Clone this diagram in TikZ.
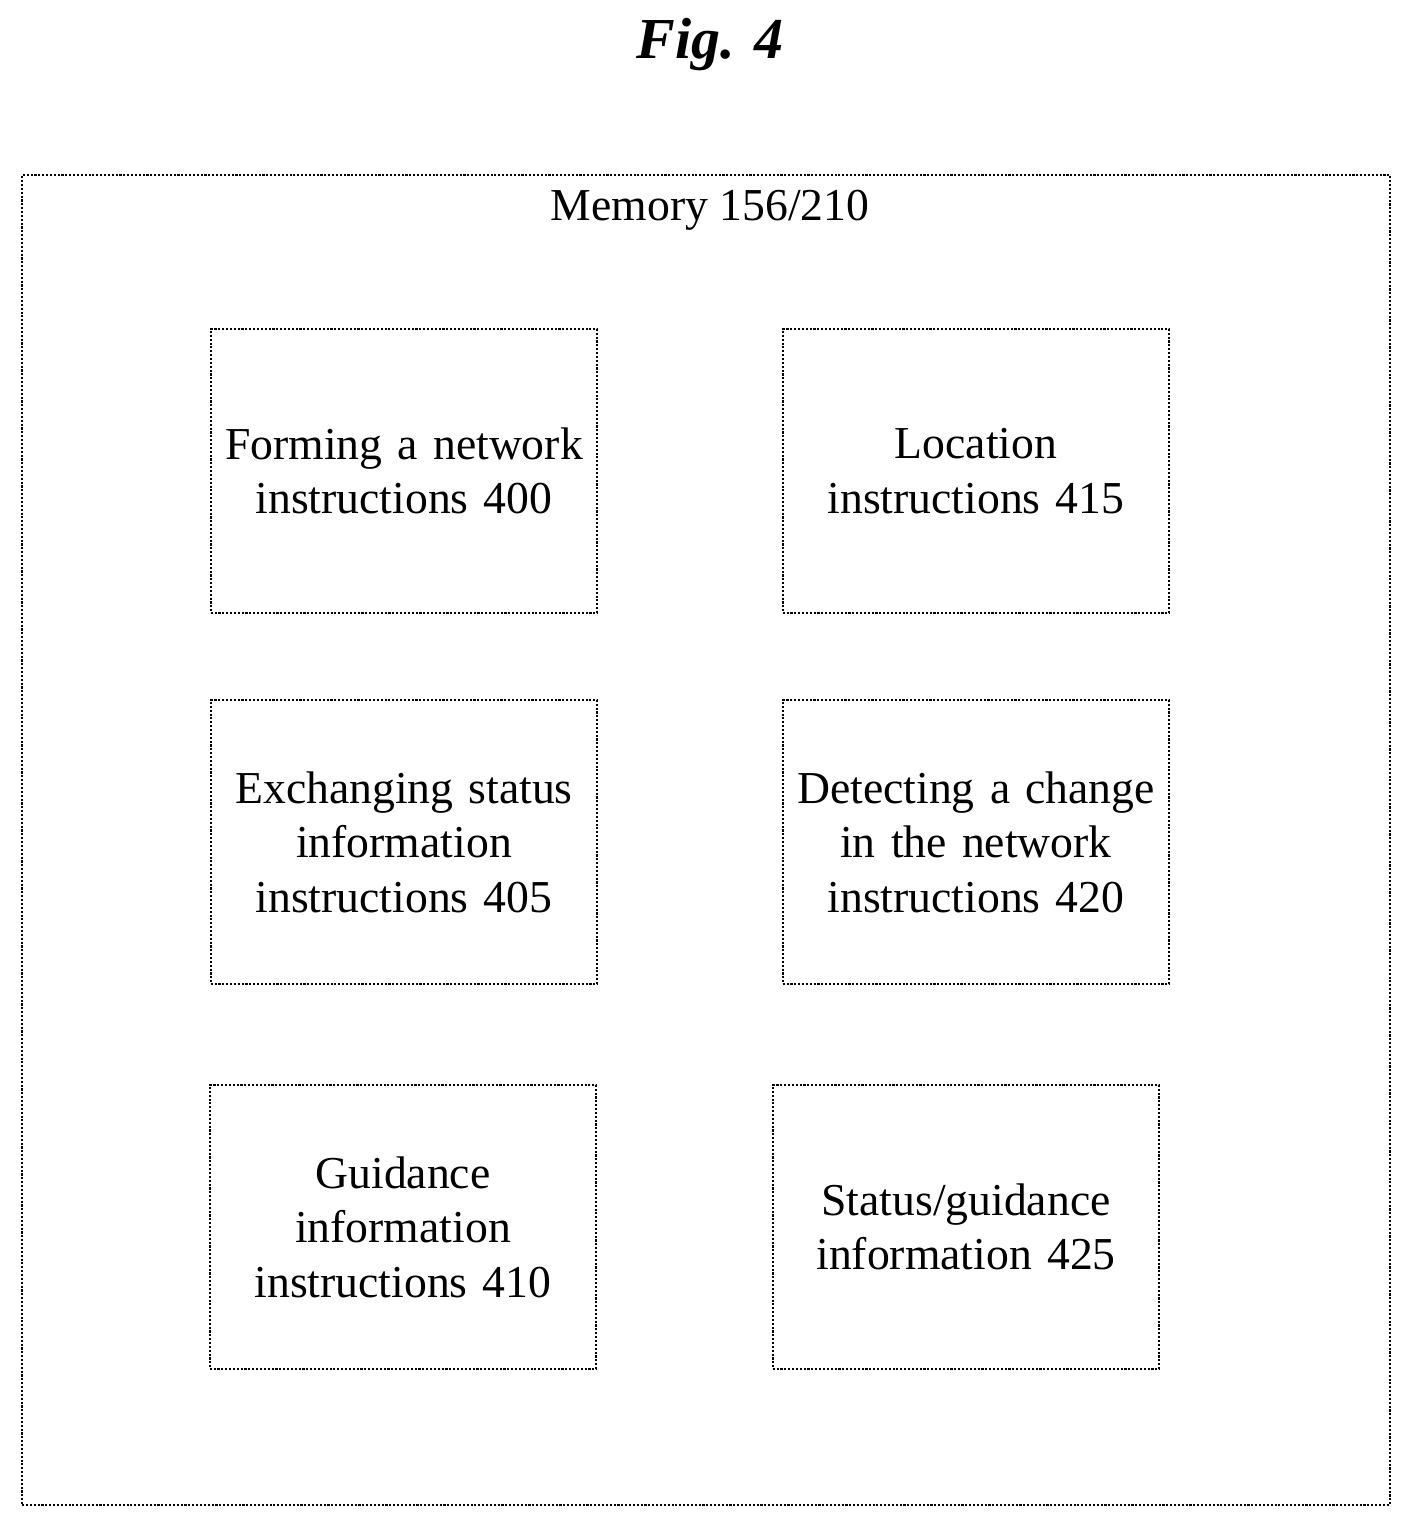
\documentclass[tikz,border=0pt]{standalone}
\usepackage{fontspec}
\setmainfont{Liberation Serif}
\usepackage{tikz}
\usetikzlibrary{positioning}

\tikzset{
	memblock/.style = {draw, very thick, densely dotted, minimum width=7.62cm, minimum height=5.68cm,
		align=center, text width=7.5cm, font=\fontsize{26}{31}\selectfont},
}

\begin{document}
\begin{tikzpicture}[x=0.02cm, y=-0.02cm]
	\useasboundingbox (0,0) rectangle (1414,1528);
	\node [font=\fontsize{33}{38}\selectfont\bfseries\itshape] (fig) at (710,45) {Fig. 4};
	\node [draw, very thick, densely dotted, minimum width=27.36cm, minimum height=26.6cm] (mem) at (706,840) {};
	\node [font=\fontsize{26}{31}\selectfont] (memlabel) at (710,210) {Memory 156/210};
	\begin{scope}[every node/.style = {memblock}]
		\node (A) at (404,471) {Forming a network\\instructions 400};
		\node (B) at (976,471) {Location\\instructions 415};
		\node (C) at (404,842) {Exchanging status\\information\\instructions 405};
		\node (D) at (976,842) {Detecting a change\\in the network\\instructions 420};
		\node (E) at (403,1227) {Guidance\\information\\instructions 410};
		\node (F) at (966,1227) {Status/guidance\\information 425};
	\end{scope}
\end{tikzpicture}
\end{document}
